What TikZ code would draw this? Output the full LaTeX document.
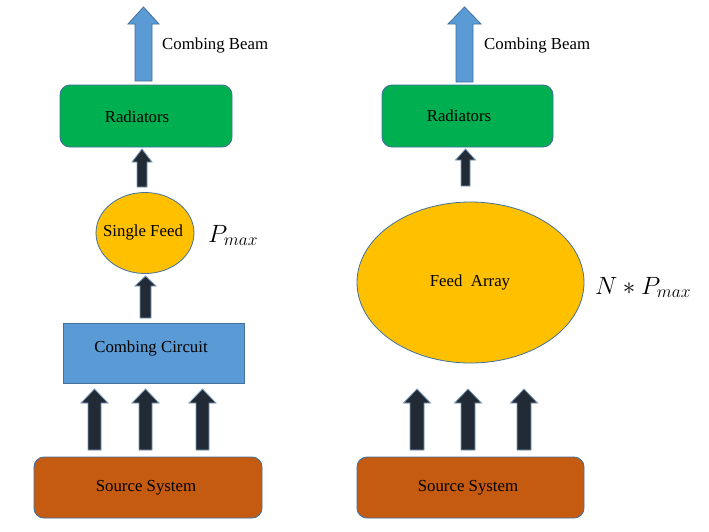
\RequirePackage{fix-cm}
\documentclass[tikz,border=0pt]{standalone}
\usepackage{fontspec}
\setmainfont{Liberation Serif}
\usetikzlibrary{calc,shapes.geometric}
\definecolor{radgreen}{HTML}{00B050}
\definecolor{officeblue}{HTML}{5B9BD5}
\definecolor{edgeblue}{HTML}{41719C}
\definecolor{feedyellow}{HTML}{FFC000}
\definecolor{srcorange}{HTML}{C55A11}
\definecolor{darkarrow}{HTML}{222A35}
\newcommand{\blockarrow}[6]{% style, from, to, half shaft, half head, head length
  \draw[#1] let \p1=(#2), \p2=(#3) in
    (\x1-#4pt,\y1) -- (\x1+#4pt,\y1) -- (\x1+#4pt,\y2-#6pt) -- (\x1+#5pt,\y2-#6pt)
    -- (\x1,\y2) -- (\x1-#5pt,\y2-#6pt) -- (\x1-#4pt,\y2-#6pt) -- cycle;}
\begin{document}
\begin{tikzpicture}[x=1pt,y=-1pt,
  every node/.style={font=\fontsize{16.8}{20}\selectfont, text=black},
  box/.style={draw=edgeblue, line width=0.9pt, inner sep=0pt},
  roundbox/.style={box, rounded corners=10pt},
  feedshape/.style={ellipse, draw=edgeblue, line width=0.8pt, fill=feedyellow, inner sep=0pt},
  beamarrow/.style={fill=officeblue, draw=edgeblue, line width=0.8pt},
  feedarrow/.style={fill=darkarrow, draw=edgeblue!70, line width=0.8pt},
  mathlabel/.style={font=\fontsize{25}{29}\selectfont, anchor=base west, inner sep=0pt}
]
\useasboundingbox (0,0) rectangle (709,531);
\fill[white] (0,0) rectangle (709,531);

% ---------- left column ----------
\node[roundbox, fill=radgreen, minimum width=172pt, minimum height=62pt] (rad1) at (146,116) {};
\node (rad1t) at (137,117) {Radiators};
\node[feedshape, minimum width=98pt, minimum height=81pt] (feed1) at (145,233) {};
\node (feed1t) at (143,232) {Single Feed};
\node[mathlabel] (pmax) at (208,242) {$P_{max}$};
\node[box, fill=officeblue, minimum width=181pt, minimum height=60pt] (circ) at (153.5,353) {};
\node (circt) at (151,348) {Combing Circuit};
\node[roundbox, fill=srcorange, minimum width=228pt, minimum height=61pt] (src1) at (148,487.5) {};
\node (src1t) at (146,488) {Source System};
\node[anchor=west, inner sep=0pt] (beam1) at (162,45) {Combing Beam};

\coordinate (lb0) at (143.5,81);  \coordinate (lt0) at (143.5,7);
\coordinate (lb1) at (142,187);   \coordinate (lt1) at (142,149);
\coordinate (lb2) at (145.5,318); \coordinate (lt2) at (145.5,276);
\coordinate (lb3) at (94.5,450);  \coordinate (lt3) at (94.5,389);
\coordinate (lb4) at (145.5,450); \coordinate (lt4) at (145.5,389);
\coordinate (lb5) at (202.5,450); \coordinate (lt5) at (202.5,389);
\blockarrow{beamarrow}{lb0}{lt0}{8.5}{15.5}{17}
\blockarrow{feedarrow}{lb1}{lt1}{5}{10}{13}
\blockarrow{feedarrow}{lb2}{lt2}{5.5}{10.5}{10}
\blockarrow{feedarrow}{lb3}{lt3}{6.5}{13.5}{14}
\blockarrow{feedarrow}{lb4}{lt4}{6.5}{13.5}{14}
\blockarrow{feedarrow}{lb5}{lt5}{6.5}{13.5}{14}

% ---------- right column ----------
\node[roundbox, fill=radgreen, minimum width=171pt, minimum height=62pt] (rad2) at (467.5,116) {};
\node (rad2t) at (459,116) {Radiators};
\node[feedshape, minimum width=227pt, minimum height=161pt] (feed2) at (470.5,282.5) {};
\node (feed2t) at (470,282) {Feed~ Array};
\node[mathlabel] (npmax) at (595,294) {$N*P_{max}$};
\node[roundbox, fill=srcorange, minimum width=227pt, minimum height=61pt] (src2) at (470.5,487.5) {};
\node (src2t) at (468,488) {Source System};
\node[anchor=west, inner sep=0pt] (beam2) at (484,45) {Combing Beam};

\coordinate (rb0) at (464.5,82);  \coordinate (rt0) at (464.5,7);
\coordinate (rb1) at (465.5,186); \coordinate (rt1) at (465.5,149);
\coordinate (rb3) at (417,450);   \coordinate (rt3) at (417,389);
\coordinate (rb4) at (468,450);   \coordinate (rt4) at (468,389);
\coordinate (rb5) at (524,450);   \coordinate (rt5) at (524,389);
\blockarrow{beamarrow}{rb0}{rt0}{8.5}{16.5}{17}
\blockarrow{feedarrow}{rb1}{rt1}{4.5}{10}{11}
\blockarrow{feedarrow}{rb3}{rt3}{7}{13.5}{14}
\blockarrow{feedarrow}{rb4}{rt4}{7}{13.5}{14}
\blockarrow{feedarrow}{rb5}{rt5}{7}{13.5}{14}
\end{tikzpicture}
\end{document}
